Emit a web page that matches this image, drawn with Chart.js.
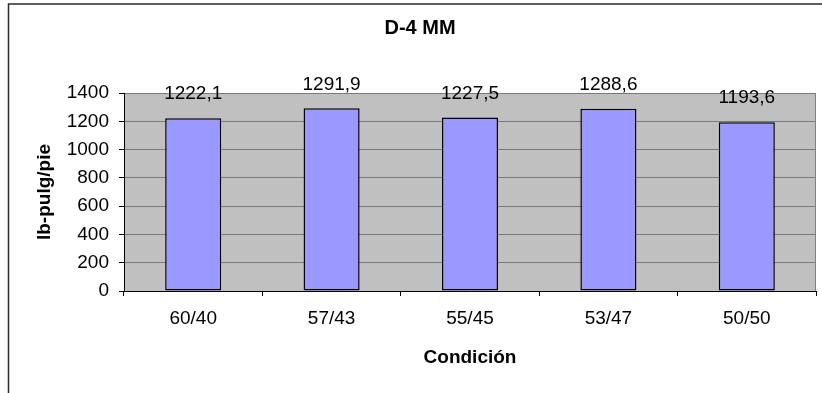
<!DOCTYPE html>
<html>
<head>
<meta charset="utf-8">
<title>D-4 MM</title>
<script src="https://cdn.jsdelivr.net/npm/chart.js@4/dist/chart.umd.min.js"></script>
<style>
  body { margin: 0; background: #fff; }
</style>
</head>
<body>
<canvas id="myChart" width="822" height="393"></canvas>
<script>
const chartTitle = 'D-4 MM';
const condiciones = ['60/40', '57/43', '55/45', '53/47', '50/50'];
const valores = [1222.1, 1291.9, 1227.5, 1288.6, 1193.6];
const yTicks = [0, 200, 400, 600, 800, 1000, 1200, 1400];

const fontFamily = '"Liberation Sans", Arial, sans-serif';

// frame, plot background, title and value labels
const excelLook = {
    id: 'excelLook',
    beforeDraw(chart) {
        const ctx = chart.ctx;
        const a = chart.chartArea;
        ctx.save();
        ctx.fillStyle = '#c0c0c0';
        ctx.fillRect(a.left, a.top, a.right - a.left, a.bottom - a.top);
        ctx.strokeStyle = '#2a2a2a';
        ctx.lineWidth = 1.5;
        ctx.beginPath();
        ctx.moveTo(8.5, chart.height);
        ctx.lineTo(8.5, 4);
        ctx.lineTo(chart.width, 4);
        ctx.stroke();

        ctx.fillStyle = '#000';
        ctx.font = 'bold 20px ' + fontFamily;
        ctx.textAlign = 'center';
        ctx.textBaseline = 'middle';
        ctx.fillText(chartTitle, 420, 28);
        ctx.restore();
    },
    afterDraw(chart) {
        const ctx = chart.ctx;
        const a = chart.chartArea;
        ctx.save();
        ctx.strokeStyle = '#808080';
        ctx.lineWidth = 1;
        ctx.beginPath();
        ctx.moveTo(a.right - 0.5, a.top);
        ctx.lineTo(a.right - 0.5, a.bottom);
        ctx.stroke();
        ctx.restore();
    },
    afterDatasetsDraw(chart) {
        const ctx = chart.ctx;
        const meta = chart.getDatasetMeta(0);
        ctx.save();
        ctx.fillStyle = '#000';
        ctx.font = '19px ' + fontFamily;
        ctx.textAlign = 'center';
        ctx.textBaseline = 'middle';
        meta.data.forEach((bar, i) => {
            ctx.fillText(valores[i].toFixed(1).replace('.', ','), bar.x, bar.y - 24);
        });
        ctx.restore();
    }
};

const ctx = document.getElementById('myChart').getContext('2d');
const myChart = new Chart(ctx, {
    type: 'bar',
    plugins: [excelLook],
    data: {
        labels: condiciones,
        datasets: [{
            label: 'lb-pulg/pie',
            data: valores,
            backgroundColor: '#9999ff',
            borderColor: '#000',
            borderWidth: 1.5,
            borderSkipped: false,
            barPercentage: 0.405,
            categoryPercentage: 1
        }]
    },
    options: {
        responsive: false,
        animation: false,
        layout: {
            padding: { top: 93, right: 6, left: 0, bottom: 0 }
        },
        plugins: {
            legend: { display: false },
            tooltip: { enabled: false }
        },
        scales: {
            x: {
                afterFit(scale) { scale.height = 102; },
                grid: {
                    offset: true,
                    drawOnChartArea: false,
                    drawTicks: true,
                    tickLength: 5,
                    tickColor: '#000'
                },
                border: { color: '#000', width: 1 },
                ticks: {
                    color: '#000',
                    padding: 11,
                    font: { family: fontFamily, size: 19 }
                },
                title: {
                    display: true,
                    text: 'Condición',
                    color: '#000',
                    font: { family: fontFamily, size: 19, weight: 'bold' },
                    padding: { top: 0, bottom: 24 }
                }
            },
            y: {
                min: 0,
                max: 1400,
                afterFit(scale) { scale.width = 124; },
                afterBuildTicks(scale) {
                    scale.ticks = yTicks.map(v => ({ value: v }));
                },
                grid: {
                    color: '#7a7a7a',
                    tickColor: '#000',
                    tickLength: 5
                },
                border: { color: '#000', width: 1 },
                ticks: {
                    color: '#000',
                    padding: 10,
                    font: { family: fontFamily, size: 19 },
                    callback: (value) => String(value)
                },
                title: {
                    display: true,
                    text: 'lb-pulg/pie',
                    color: '#000',
                    font: { family: fontFamily, size: 19, weight: 'bold' },
                    padding: { top: 33, bottom: 0 }
                }
            }
        }
    }
});
</script>
</body>
</html>
